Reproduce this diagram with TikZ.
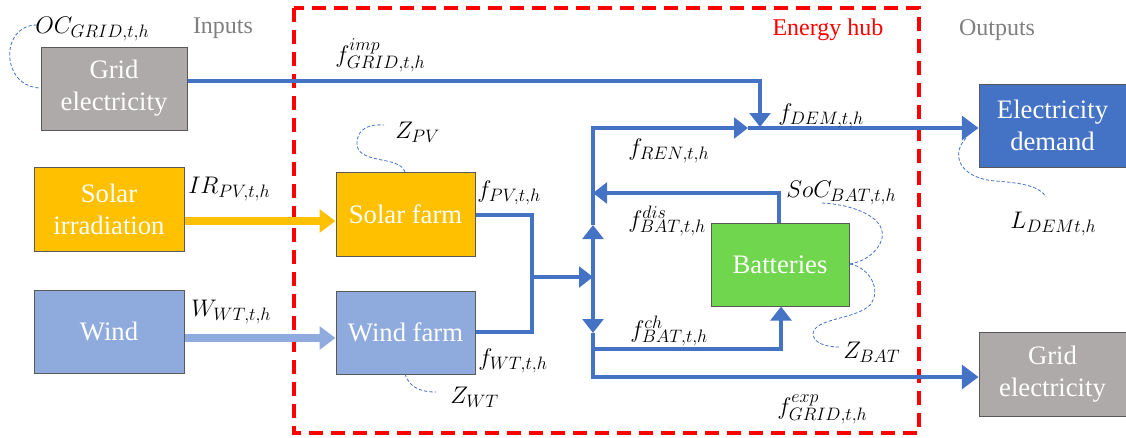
\RequirePackage{fix-cm}
\documentclass[tikz,border=0pt]{standalone}
\usepackage{fontspec}
\setmainfont{Liberation Serif}
\DeclareMathSizes{18}{18}{13.5}{10}
\usetikzlibrary{arrows.meta}
\definecolor{lineblue}{HTML}{4472C4}
\definecolor{boxgray}{HTML}{AEAAAA}
\definecolor{solaryel}{HTML}{FFC000}
\definecolor{windblue}{HTML}{8FAADC}
\definecolor{batgreen}{HTML}{70D64E}
\definecolor{bordergray}{HTML}{595959}
\definecolor{labelgray}{HTML}{7F7F7F}
\definecolor{hubred}{HTML}{FF0000}
\begin{document}
\begin{tikzpicture}[x=0.75pt,y=-0.75pt,
  box/.style={draw=bordergray, line width=0.75pt, text=white, align=center, inner sep=0pt,
    font=\fontsize{20}{24}\selectfont},
  flow/.style={draw=lineblue, line width=2.6pt},
  tipS/.style={-{Triangle[length=10.5pt,width=15.5pt]}},
  tipL/.style={-{Triangle[length=12.5pt,width=18pt]}},
  fatarrow/.style={line width=6pt, -{Triangle[length=12pt,width=17pt]}},
  squig/.style={draw=lineblue, line width=0.6pt, dash pattern=on 2.5pt off 1.5pt},
  mlab/.style={anchor=base west, inner sep=0pt, font=\fontsize{18}{21}\selectfont},
  glab/.style={anchor=base, inner sep=0pt, font=\fontsize{18}{20}\selectfont}
]
\useasboundingbox (0,0) rectangle (1126,437);
\clip (0,0) rectangle (1126,437);

% energy hub frame
\draw[hubred, line width=3pt, dash pattern=on 10.5pt off 6pt] (294,8) rectangle (919,433);

% boxes
\node[box, fill=boxgray, minimum width=146*0.75pt, minimum height=83*0.75pt] (gridin) at (114,88.5) {Grid\\electricity};
\node[box, fill=solaryel, minimum width=150*0.75pt, minimum height=84*0.75pt] (solarirr) at (109,209) {Solar\\irradiation};
\node[box, fill=windblue, minimum width=150*0.75pt, minimum height=83*0.75pt] (wind) at (109,331.5) {Wind};
\node[box, fill=solaryel, minimum width=139*0.75pt, minimum height=84*0.75pt] (solarfarm) at (405.5,214) {Solar farm};
\node[box, fill=windblue, minimum width=139*0.75pt, minimum height=83*0.75pt] (windfarm) at (405.5,332.5) {Wind farm};
\node[box, fill=batgreen, minimum width=138*0.75pt, minimum height=83*0.75pt] (bat) at (780,264.5) {Batteries};
\node[box, fill=lineblue, minimum width=147*0.75pt, minimum height=83*0.75pt] (demand) at (1052.5,125.5) {Electricity\\demand};
\node[box, fill=boxgray, minimum width=147*0.75pt, minimum height=84*0.75pt] (gridout) at (1052.5,374) {Grid\\electricity};

% headings
\node[glab, text=labelgray] (inputs) at (223,33) {Inputs};
\node[glab, text=labelgray] (outputs) at (997,35) {Outputs};
\node[glab, text=hubred] (hub) at (828,35) {Energy hub};

% junction coordinates
\coordinate (ya) at (0,221);
\coordinate (wa) at (0,338);
\coordinate (imp) at (760,81);
\coordinate (demj) at (760,127);
\coordinate (renend) at (748,128);
\coordinate (bustop) at (593,128);
\coordinate (busup) at (593,225);
\coordinate (merge) at (593,277);
\coordinate (busdown) at (593,333);
\coordinate (buschg) at (593,349);
\coordinate (busbot) at (593,377);
\coordinate (pvj) at (532,215);
\coordinate (wtj) at (532,332);
\coordinate (mergeL) at (532,277);
\coordinate (disj) at (779,193);
\coordinate (disend) at (593,193);
\coordinate (chgj) at (781,349);

% input arrows
\draw[fatarrow, solaryel] (solarirr.east |- ya) -- (solarfarm.west |- ya);
\draw[fatarrow, windblue] (wind.east |- wa) -- (windfarm.west |- wa);

% flows
\draw[flow, tipS] (gridin.east |- imp) -- (imp) -- (demj);
\draw[flow] (solarfarm.east |- pvj) -- (pvj) -- (mergeL);
\draw[flow] (windfarm.east |- wtj) -- (wtj) -- (mergeL);
\draw[flow, tipS] (mergeL) -- (merge);
\draw[flow, tipS] (merge) -- (busup);
\draw[flow, tipS] (busup) -- (bustop) -- (renend);
\draw[flow, tipL] (renend) -- (demand.west |- renend);
\draw[flow, tipS] (bat.north -| disj) -- (disj) -- (disend);
\draw[flow, tipS] (merge) -- (busdown);
\draw[flow, tipL] (busdown) -- (busbot) -- (gridout.west |- busbot);
\draw[flow, tipS] (buschg) -- (chgj) -- (bat.south -| chgj);

% labels
\node[mlab] (oc) at (35,33) {$OC_{GRID,t,h}$};
\node[mlab] (fimp) at (335,62) {$f^{imp}_{GRID,t,h}$};
\node[mlab] (zpv) at (395,138) {$Z_{PV}$};
\node[mlab] (fpv) at (477,197) {$f_{PV,t,h}$};
\node[mlab] (irpv) at (188,193) {$IR_{PV,t,h}$};
\node[mlab] (wwt) at (191,316) {$W_{WT,t,h}$};
\node[mlab] (fwt) at (478,365) {$f_{WT,t,h}$};
\node[mlab] (zwt) at (450,403) {$Z_{WT}$};
\node[mlab] (fren) at (628,155) {$f_{REN,t,h}$};
\node[mlab] (fdem) at (778,120) {$f_{DEM,t,h}$};
\node[mlab] (soc) at (786,197) {$SoC_{BAT,t,h}$};
\node[mlab] (fdis) at (628,227) {$f^{dis}_{BAT,t,h}$};
\node[mlab] (fch) at (630,337) {$f^{ch}_{BAT,t,h}$};
\node[mlab] (zbat) at (843,358) {$Z_{BAT}$};
\node[mlab] (fexp) at (777,414) {$f^{exp}_{GRID,t,h}$};
\node[mlab] (ldem) at (1010,228) {$L_{DEMt,h}$};

% dashed annotation curves
\draw[squig] (37,25) .. controls (0,25) and (0,86) .. (40,88);
\draw[squig] (405,172) .. controls (400,155) and (355,165) .. (357,142) .. controls (358,128) and (370,124) .. (384,125);
\draw[squig] (405,374) .. controls (410,390) and (425,392) .. (436,392);
\draw[squig] (822,203) .. controls (860,205) and (895,222) .. (878,247) .. controls (870,258) and (860,262) .. (850,264);
\draw[squig] (850,264) .. controls (870,268) and (882,290) .. (870,305) .. controls (855,320) and (812,318) .. (813,335) .. controls (815,345) and (830,347) .. (840,347);
\draw[squig] (966,138) .. controls (950,155) and (960,178) .. (995,181) .. controls (1025,183) and (1040,187) .. (1046,197);
\end{tikzpicture}
\end{document}
